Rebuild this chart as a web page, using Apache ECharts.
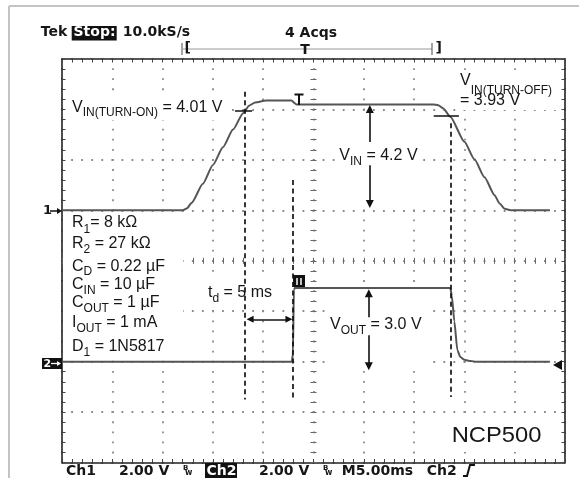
<!DOCTYPE html>
<html><head><meta charset="utf-8">
<script src="https://cdn.jsdelivr.net/npm/echarts@6/dist/echarts.min.js"></script>
<style>html,body{margin:0;padding:0;background:#fff}#c{width:579px;height:478px}</style>
</head><body><div id="c"></div>
<script>
// ---------------- data (time in ms from left edge, volts) ----------------
const ch1Time = [0, 12.0, 12.4, 12.9, 14, 15, 16, 17, 18, 18.6, 19.2, 20.3, 22.8, 23.3, 36.9, 37.4, 37.9, 38.6, 40, 41, 42, 43, 43.5, 44, 44.6, 48.5];
const ch1Volt = [0, 0, 0.07, 0.3, 1.05, 1.8, 2.5, 3.2, 3.85, 4.15, 4.28, 4.35, 4.35, 4.2, 4.2, 4.17, 4.04, 3.71, 2.72, 2.02, 1.31, 0.6, 0.27, 0.06, 0, 0];
const ch2Time = [0, 22.85, 22.95, 23.05, 23.15, 38.6, 38.75, 39.0, 39.3, 39.6, 40.0, 40.6, 41.2, 48.5];
const ch2Volt = [0, 0, 0.3, 2.85, 2.92, 2.92, 2.6, 1.6, 0.45, 0.18, 0.07, 0.02, 0, 0];
// cursor lines (time, top V, bottom V on ch1 scale)
const cursorTime = [18.2, 22.95, 38.65];
const cursorTop = [4.7, 1.2, 3.45];
const cursorBottom = [-7.5, -7.5, -7.4];
// threshold marks on ch1 (start t, end t, V)
const levelStart = [17.2, 36.95];
const levelEnd = [18.9, 39.45];
const levelVolt = [3.95, 3.74];
// scope settings
const timeDivs = [0, 50, 5];      // min, max, ms/div
const ch1Range = [-10, 6, 2];     // V, V/div
const ch2Range = [-4, 12, 2];

// ---------------- helpers ----------------
const SANS = '"Liberation Sans", Arial, Helvetica, sans-serif';
const SCOPE = '"DejaVu Sans", Verdana, sans-serif';
const mctx = document.createElement('canvas').getContext('2d');
function tw(s, size, fam, weight) { mctx.font = (weight || 'normal') + ' ' + size + 'px ' + fam; return mctx.measureText(s).width; }
function T(x, base, text, size, o) {
  o = o || {};
  const fam = o.family || SANS, w = o.weight || 'normal';
  return { type: 'text', x: x, y: base - 0.346 * size, z: 100, silent: true, scaleX: o.scaleX || 1,
    style: { text: text, font: w + ' ' + size + 'px ' + fam, fill: o.fill || '#161616',
      align: o.align || 'left', verticalAlign: 'middle', textAlign: o.align || 'left', textVerticalAlign: 'middle' } };
}
function sublabel(x, base, parts, subDy, size, subSize) {
  size = size || 16; subSize = subSize || 12;
  const out = []; let cx = x;
  parts.forEach(function (p) {
    const fs = p[1] ? subSize : size;
    out.push(T(cx, base + (p[1] ? subDy : 0), p[0], fs));
    cx += tw(p[0], fs, SANS);
  });
  return out;
}
function L(x1, y1, x2, y2, color, width) {
  return { type: 'line', z: 100, silent: true, shape: { x1: x1, y1: y1, x2: x2, y2: y2 }, style: { stroke: color || '#111', lineWidth: width || 1.5 } };
}
function mask(x, y, w, h) {
  return { type: 'rect', z: 3, silent: true, shape: { x: x, y: y, width: w, height: h }, style: { fill: '#fff' } };
}

const DOT = '#8a8a8a', BORDER = '#222', TICK = '#444', TRACE = '#555';
function axis(o, range) {
  return Object.assign({
    type: 'value', min: range[0], max: range[1], interval: range[2], silent: true,
    axisLabel: { show: false },
    axisLine: { show: true, onZero: false, lineStyle: { color: BORDER, width: 1.6 } },
    axisTick: { show: true, inside: true, length: 3.5, lineStyle: { color: TICK, width: 1 } },
    minorTick: { show: true, splitNumber: 5, length: 3.5, lineStyle: { color: TICK, width: 1 } },
    splitLine: { show: false }, minorSplitLine: { show: false }
  }, o);
}
function centerAxis(o, range, inside) {
  return axis(Object.assign({
    axisLine: { show: false, onZero: false },
    axisTick: { show: true, inside: inside, length: 3, lineStyle: { color: '#666', width: 1 } },
    minorTick: { show: true, splitNumber: 5, length: 3, lineStyle: { color: '#666', width: 1 } }
  }, o), range);
}

// ---------------- graphics (annotations, scope text) ----------------
const g = [];
// white label backgrounds (hide graticule behind annotations)
g.push(mask(66, 97, 162, 23));
g.push(mask(456, 71, 101, 39));
g.push(mask(336, 112, 83, 94));
g.push(mask(327, 290, 101, 78));
g.push(mask(200, 280, 84, 27));
g.push(mask(63, 214, 120, 143));
g.push(mask(448, 420, 100, 32));
// outer frame
g.push(L(9, 6, 9, 478, '#c4c4c4', 2));
g.push(L(9, 6, 579, 6, '#c4c4c4', 2));
// header
g.push(T(40.7, 37.5, 'Tek', 14, { family: SCOPE, weight: 'bold' }));
g.push({ type: 'rect', z: 99, silent: true, shape: { x: 71.7, y: 26, width: 45, height: 14.5 }, style: { fill: '#111' } });
g.push(T(73.5, 37.5, 'Stop:', 14, { family: SCOPE, weight: 'bold', fill: '#fff' }));
g.push(T(122.7, 37.5, '10.0kS/s', 14, { family: SCOPE, weight: 'bold' }));
g.push(T(285, 38, '4 Acqs', 14, { family: SCOPE, weight: 'bold' }));
g.push(L(183, 49, 432, 49, '#999', 1.2));
g.push(L(182, 43, 182, 55, '#666', 1.2));
g.push(L(432, 43, 432, 55, '#666', 1.2));
g.push(T(184.5, 53.5, '[', 14, { family: SCOPE, weight: 'bold' }));
g.push(T(435.5, 53.5, ']', 14, { family: SCOPE, weight: 'bold' }));
g.push(T(305, 55, 'T', 14, { family: SCOPE, weight: 'bold', align: 'center' }));
// footer
g.push(T(66, 476, 'Ch1', 14, { family: SCOPE, weight: 'bold' }));
g.push(T(119, 476, '2.00 V', 14, { family: SCOPE, weight: 'bold' }));
g.push(T(183, 471, 'B', 7, { family: SCOPE, weight: 'bold' }));
g.push(T(185, 476, 'w', 8, { family: SCOPE, weight: 'bold' }));
g.push({ type: 'rect', z: 99, silent: true, shape: { x: 205, y: 463, width: 32, height: 15 }, style: { fill: '#111' } });
g.push(T(206.5, 476, 'Ch2', 14, { family: SCOPE, weight: 'bold', fill: '#fff' }));
g.push(T(259, 476, '2.00 V', 14, { family: SCOPE, weight: 'bold' }));
g.push(T(323, 471, 'B', 7, { family: SCOPE, weight: 'bold' }));
g.push(T(325, 476, 'w', 8, { family: SCOPE, weight: 'bold' }));
g.push(T(341.7, 476, 'M5.00ms', 14, { family: SCOPE, weight: 'bold' }));
g.push(T(426.7, 476, 'Ch2', 14, { family: SCOPE, weight: 'bold' }));
g.push({ type: 'polyline', z: 100, silent: true, shape: { points: [[463, 476], [467, 476], [470, 465], [475, 465]] }, style: { stroke: '#111', lineWidth: 2, fill: null } });
// channel markers
g.push(T(43, 215.5, '1', 13, { family: SCOPE, weight: 'bold' }));
g.push(L(50, 211, 58, 211, '#111', 1.5));
g.push({ type: 'polygon', z: 100, silent: true, shape: { points: [[62, 211], [57, 208], [57, 214]] }, style: { fill: '#111' } });
g.push({ type: 'rect', z: 99, silent: true, shape: { x: 42, y: 358, width: 20, height: 11 }, style: { fill: '#111' } });
g.push(T(43.5, 367.5, '2', 11, { family: SCOPE, weight: 'bold', fill: '#fff' }));
g.push(L(51, 363.5, 57, 363.5, '#fff', 1.3));
g.push({ type: 'polygon', z: 100, silent: true, shape: { points: [[61, 363.5], [57, 361], [57, 366]] }, style: { fill: '#fff' } });
g.push({ type: 'polygon', z: 100, silent: true, shape: { points: [[553, 365], [562, 360], [562, 370]] }, style: { fill: '#111' } });
// trigger markers
g.push(L(299, 94, 299, 105, '#111', 2));
g.push(L(294.5, 94.5, 303.5, 94.5, '#111', 2));
g.push({ type: 'rect', z: 99, silent: true, shape: { x: 293, y: 275, width: 12, height: 12 }, style: { fill: '#111' } });
g.push(L(297, 278, 297, 285, '#fff', 1.5));
g.push(L(301, 278, 301, 285, '#fff', 1.5));
// annotation text
sublabel(72, 113.3, [['V', 0], ['IN(TURN-ON)', 1], [' = 4.01 V', 0]], 4).forEach(e => g.push(e));
sublabel(460, 86.5, [['V', 0], ['IN(TURN-OFF)', 1]], 8.5).forEach(e => g.push(e));
g.push(T(460, 106.5, '= 3.93 V', 16));
sublabel(339.3, 160.7, [['V', 0], ['IN', 1], [' = 4.2 V', 0]], 5.5).forEach(e => g.push(e));
sublabel(330, 330, [['V', 0], ['OUT', 1], [' = 3.0 V', 0]], 5).forEach(e => g.push(e));
sublabel(208, 298.3, [['t', 0], ['d', 1], [' = 5 ms', 0]], 5).forEach(e => g.push(e));
sublabel(72, 228.3, [['R', 0], ['1', 1], ['= 8 kΩ', 0]], 5.5).forEach(e => g.push(e));
sublabel(72, 249.3, [['R', 0], ['2', 1], [' = 27 kΩ', 0]], 5).forEach(e => g.push(e));
sublabel(72, 271.7, [['C', 0], ['D', 1], [' = 0.22 µF', 0]], 4.5).forEach(e => g.push(e));
sublabel(72, 290, [['C', 0], ['IN', 1], [' = 10 µF', 0]], 4.5).forEach(e => g.push(e));
sublabel(72, 308.3, [['C', 0], ['OUT', 1], [' = 1 µF', 0]], 4.5).forEach(e => g.push(e));
sublabel(72, 328.3, [['I', 0], ['OUT', 1], [' = 1 mA', 0]], 4.5).forEach(e => g.push(e));
sublabel(72, 351.7, [['D', 0], ['1', 1], [' = 1N5817', 0]], 5).forEach(e => g.push(e));
g.push(T(451.7, 443.3, 'NCP500', 22, { scaleX: 1.08 }));

// ---------------- chart ----------------
const chart = echarts.init(document.getElementById('c'), null, { renderer: 'canvas' });
const zip = (a, b) => a.map((t, i) => [t, b[i]]);
const arrowStyle = { color: '#111', width: 1.6, opacity: 1 };
chart.setOption({
  animation: false,
  backgroundColor: '#fff',
  grid: { left: 62, top: 59, width: 503, height: 403.5, containLabel: false },
  xAxis: [
    axis({ position: 'bottom', splitLine: { show: true, lineStyle: { color: DOT, width: 1.8, type: [1.8, 8.29], dashOffset: 0.9 } } }, timeDivs),
    axis({ position: 'top' }, timeDivs),
    centerAxis({ position: 'bottom', offset: -201.75 }, timeDivs, true),
    centerAxis({ position: 'bottom', offset: -201.75 }, timeDivs, false)
  ],
  yAxis: [
    axis({ position: 'left', splitLine: { show: true, lineStyle: { color: DOT, width: 1.8, type: [1.8, 8.26], dashOffset: 0.9 } } }, ch1Range),
    axis({ position: 'right' }, ch2Range),
    centerAxis({ position: 'left', offset: -251.5 }, ch1Range, true),
    centerAxis({ position: 'left', offset: -251.5 }, ch1Range, false)
  ],
  series: [
    { type: 'line', name: 'CH1', xAxisIndex: 0, yAxisIndex: 0, data: zip(ch1Time, ch1Volt), showSymbol: false, symbol: 'none',
      smooth: 0.2, smoothMonotone: 'x', lineStyle: { color: TRACE, width: 2 }, z: 5, silent: true },
    { type: 'line', name: 'CH2', xAxisIndex: 0, yAxisIndex: 1, data: zip(ch2Time, ch2Volt), showSymbol: false, symbol: 'none',
      smooth: 0.2, smoothMonotone: 'x', lineStyle: { color: TRACE, width: 2 }, z: 5, silent: true },
    { type: 'lines', coordinateSystem: 'cartesian2d', xAxisIndex: 0, yAxisIndex: 0, z: 6, silent: true,
      data: cursorTime.map((t, i) => ({ coords: [[t, cursorTop[i]], [t, cursorBottom[i]]] })),
      lineStyle: { color: '#111', width: 1.7, opacity: 1, type: [5, 3.5] }, symbol: 'none' },
    { type: 'lines', coordinateSystem: 'cartesian2d', xAxisIndex: 0, yAxisIndex: 0, z: 6, silent: true,
      data: levelStart.map((t, i) => ({ coords: [[t, levelVolt[i]], [levelEnd[i], levelVolt[i]]] })),
      lineStyle: { color: '#111', width: 1.5, opacity: 1 }, symbol: 'none' },
    { type: 'lines', coordinateSystem: 'cartesian2d', xAxisIndex: 0, yAxisIndex: 0, z: 6, silent: true,
      data: [{ coords: [[30.6, 2.71], [30.6, 4.02]] }, { coords: [[30.6, 1.79], [30.6, 0.25]] }],
      lineStyle: arrowStyle, symbol: ['none', 'triangle'], symbolSize: 8 },
    { type: 'lines', coordinateSystem: 'cartesian2d', xAxisIndex: 0, yAxisIndex: 1, z: 6, silent: true,
      data: [{ coords: [[30.5, 1.76], [30.5, 2.71]] }, { coords: [[30.5, 1.05], [30.5, -0.18]] }],
      lineStyle: arrowStyle, symbol: ['none', 'triangle'], symbolSize: 8 },
    { type: 'lines', coordinateSystem: 'cartesian2d', xAxisIndex: 0, yAxisIndex: 1, z: 6, silent: true,
      data: [{ coords: [[18.7, 1.68], [22.56, 1.68]] }],
      lineStyle: arrowStyle, symbol: ['triangle', 'triangle'], symbolSize: 7 }
  ],
  graphic: { elements: g }
});
</script>
</body></html>
